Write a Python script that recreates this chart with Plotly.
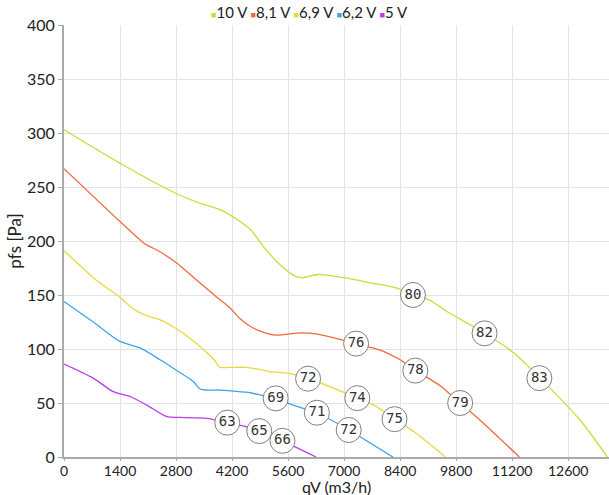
import plotly.graph_objects as go

series_names = ["10 V", "8,1 V", "6,9 V", "6,2 V", "5 V"]
colors = ["#c5df3a", "#f0693a", "#e6d93a", "#3fa2ea", "#b43ee8"]

qv_10 = [0, 1400, 2800, 3400, 3900, 4400, 4700, 5000, 5400, 5750, 5950, 6350, 7000, 7700, 8250, 8700, 9150, 9600, 10500, 11250, 11900, 12900, 13580]
pfs_10 = [303, 272, 244, 235, 229, 218, 209, 194, 178, 168, 166, 169, 166, 161, 157, 151, 145, 134, 115, 96, 73, 34, 0]

qv_81 = [0, 1400, 2000, 2400, 2800, 3400, 3850, 4150, 4400, 4750, 5250, 5900, 6300, 7000, 7300, 7900, 8400, 8800, 9400, 9900, 10400, 11380]
pfs_81 = [267, 218, 198, 190, 180, 161, 147, 138, 128, 119, 113, 115, 114, 108, 105, 99, 90, 80, 66, 50, 34, 0]

qv_69 = [0, 800, 1400, 1700, 2050, 2400, 2800, 3250, 3750, 3900, 4150, 4550, 4900, 5150, 5600, 6100, 6650, 7330, 7750, 8270, 8800, 9530]
pfs_69 = [191, 164, 148, 138, 131, 127, 119, 107, 90, 83, 83, 83, 81, 79, 77.5, 73, 65, 55, 48, 35, 22, 0]

qv_62 = [0, 730, 1400, 1900, 2400, 2800, 3230, 3400, 3570, 3900, 4230, 4650, 4900, 5300, 5730, 6350, 7120, 7650, 8220]
pfs_62 = [144, 125, 107, 101, 90, 80.5, 70, 63, 62, 62, 61, 59.5, 57.5, 54, 48, 40.5, 25, 13, 0]

qv_5 = [0, 730, 1230, 1650, 2070, 2570, 2900, 3570, 4080, 4570, 4880, 5460, 6300]
pfs_5 = [86, 73, 60.5, 56, 48, 37.3, 36.7, 35.8, 31.8, 28, 24, 15, 0]

# sound level labels placed on curves
lab_qv_10 = [8720, 10510, 11880]
lab_pfs_10 = [150, 114.5, 73]
lab_txt_10 = ["80", "82", "83"]

lab_qv_81 = [7300, 8780, 9900]
lab_pfs_81 = [105, 80, 50]
lab_txt_81 = ["76", "78", "79"]

lab_qv_69 = [6100, 7330, 8260]
lab_pfs_69 = [72.5, 54.5, 35]
lab_txt_69 = ["72", "74", "75"]

lab_qv_62 = [5290, 6320, 7115]
lab_pfs_62 = [54.3, 41, 25]
lab_txt_62 = ["69", "71", "72"]

lab_qv_5 = [4080, 4880, 5460]
lab_pfs_5 = [31.8, 24, 15]
lab_txt_5 = ["63", "65", "66"]

x_ticks = [0, 1400, 2800, 4200, 5600, 7000, 8400, 9800, 11200, 12600]
y_ticks = [0, 50, 100, 150, 200, 250, 300, 350, 400]

curves = [(qv_10, pfs_10), (qv_81, pfs_81), (qv_69, pfs_69), (qv_62, pfs_62), (qv_5, pfs_5)]
labels = [(lab_qv_10, lab_pfs_10, lab_txt_10), (lab_qv_81, lab_pfs_81, lab_txt_81),
          (lab_qv_69, lab_pfs_69, lab_txt_69), (lab_qv_62, lab_pfs_62, lab_txt_62),
          (lab_qv_5, lab_pfs_5, lab_txt_5)]

fig = go.Figure()
for name, col, (xs, ys) in zip(series_names, colors, curves):
    fig.add_trace(go.Scatter(x=xs, y=ys, mode="lines", name=name, showlegend=False,
                             line=dict(color=col, width=1.3, shape="spline", smoothing=0.7),
                             hoverinfo="skip"))
for (xs, ys, ts) in labels:
    fig.add_trace(go.Scatter(x=xs, y=ys, mode="markers+text", text=ts, showlegend=False,
                             textposition="middle center",
                             textfont=dict(family="DejaVu Sans Mono", size=14, color="#333"),
                             marker=dict(size=25, color="white", line=dict(color="#808080", width=1)),
                             cliponaxis=False, hoverinfo="skip"))

# compact legend row
legend_html = " ".join(
    f'<span style="color:{c};font-size:9px">■</span>{n}' for n, c in zip(series_names, colors)
)

fig.update_layout(
    width=609, height=495,
    margin=dict(l=64, r=0, t=25, b=38, autoexpand=False),
    paper_bgcolor="white", plot_bgcolor="white",
    font=dict(family="Lato", size=16, color="#222"),
    showlegend=False,
    annotations=[
        dict(text=legend_html, xref="paper", yref="paper", x=0.45, y=1.0, yanchor="bottom",
             xanchor="center", yshift=2, showarrow=False, font=dict(size=15, color="#222")),
        dict(text="qV (m3/h)", xref="paper", yref="paper", x=0.5, y=0, yshift=-29,
             yanchor="middle", xanchor="center", showarrow=False, font=dict(size=16, color="#222")),
    ],
)
fig.update_xaxes(range=[0, 13620], tickvals=x_ticks, ticktext=[str(v) for v in x_ticks],
                 showgrid=True, gridcolor="#e3e3e3", gridwidth=1, automargin=False,
                 showline=True, linecolor="#aaa", linewidth=2, ticks="outside", ticklen=2,
                 tickcolor="#aaa", zeroline=False, tickfont=dict(size=14), ticklabelstandoff=-2)
fig.update_yaxes(range=[0, 400], tickvals=y_ticks, ticktext=[str(v) for v in y_ticks],
                 showgrid=True, gridcolor="#e3e3e3", gridwidth=1, automargin=False,
                 showline=True, linecolor="#aaa", linewidth=2, ticks="outside", ticklen=4,
                 tickcolor="#aaa", zeroline=False,
                 title=dict(text="pfs [Pa]", standoff=1, font=dict(size=17)))

fig.write_html("out.html", config={"displayModeBar": False},
               post_script="document.body.style.margin='0';")
